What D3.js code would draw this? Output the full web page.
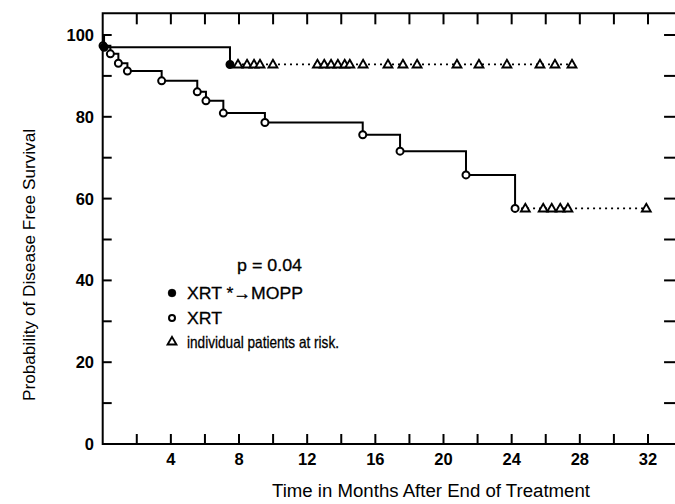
<!DOCTYPE html>
<html>
<head>
<meta charset="utf-8">
<script src="https://cdn.jsdelivr.net/npm/d3@7"></script>
<style>
  html, body { margin: 0; padding: 0; background: #fff; }
  svg { display: block; }
  text { font-family: "Liberation Sans", Arial, Helvetica, sans-serif; fill: #000; }
</style>
</head>
<body>
<svg id="chart" width="675" height="504"></svg>
<script>
// Kaplan-Meier disease-free survival, XRT -> MOPP vs XRT alone
const moppTimes = [0.08, 7.47];
const moppSurv = [97.0, 92.8];
const moppCensored = [7.94, 8.47, 8.88, 9.23, 9.99, 12.6, 13.0, 13.4, 13.8, 14.2, 14.5, 15.28, 16.74, 17.62, 18.45, 20.79, 22.08, 23.72, 25.66, 26.54, 27.54];

const xrtTimes = [0.02, 0.45, 0.92, 1.45, 3.46, 5.55, 6.06, 7.08, 9.52, 15.26, 17.45, 21.32, 24.2];
const xrtSurv = [97.4, 95.4, 93.1, 91.2, 88.8, 86.1, 83.9, 80.9, 78.6, 75.6, 71.6, 65.8, 57.6];
const xrtCensored = [24.8, 25.85, 26.35, 26.85, 27.3, 31.9];

const xTickLabels = [4, 8, 12, 16, 20, 24, 28, 32];
const yTickLabels = [0, 20, 40, 60, 80, 100];
const pValueText = "p = 0.04";
const legendLabels = ["XRT *\u2192MOPP", "XRT", "individual patients at risk."];

const svg = d3.select("#chart");
const x = d3.scaleLinear().domain([0, 34]).range([102.7, 102.7 + 34 * 17.04]);
const y = d3.scaleLinear().domain([0, 100]).range([444, 35]);
const yTop = 105.3;

const ink = "#000";

// frame: left axis, bottom axis, top line, right axis
const frame = svg.append("g").attr("fill", "none").attr("stroke", ink).attr("stroke-width", 2);
frame.append("path").attr("d", d3.line()([
  [x(34), y(0)], [x(0), y(0)], [x(0), y(yTop)], [x(34), y(yTop)], [x(34), y(0)]
]));

// tick marks every 2 months (bottom and top), every 10% (left and right)
const minorX = d3.range(2, 34, 2);
const minorY = d3.range(10, 101, 10);
const ticks = svg.append("g").attr("stroke", ink).attr("stroke-width", 2);
ticks.selectAll(".tb").data(minorX).join("line")
  .attr("x1", d => x(d)).attr("x2", d => x(d))
  .attr("y1", y(0)).attr("y2", y(0) - 10);
ticks.selectAll(".tt").data(minorX).join("line")
  .attr("x1", d => x(d)).attr("x2", d => x(d))
  .attr("y1", y(yTop)).attr("y2", y(yTop) + 11);
ticks.selectAll(".tl").data(minorY).join("line")
  .attr("x1", x(0)).attr("x2", x(0) + 9)
  .attr("y1", d => y(d)).attr("y2", d => y(d));
ticks.selectAll(".tr").data(minorY).join("line")
  .attr("x1", x(34)).attr("x2", x(34) - 18)
  .attr("y1", d => y(d)).attr("y2", d => y(d));

// tick labels
svg.append("g").selectAll("text").data(xTickLabels).join("text")
  .attr("x", d => x(d)).attr("y", 465)
  .attr("text-anchor", "middle")
  .attr("font-size", 16.5).attr("font-weight", "bold")
  .text(d => d);
svg.append("g").selectAll("text").data(yTickLabels).join("text")
  .attr("x", 94).attr("y", d => y(d) + 6)
  .attr("text-anchor", "end")
  .attr("font-size", 16.5).attr("font-weight", "bold")
  .text(d => d);

// axis titles
svg.append("text")
  .attr("x", 272).attr("y", 497)
  .attr("font-size", 18)
  .attr("textLength", 318).attr("lengthAdjust", "spacingAndGlyphs")
  .text("Time in Months After End of Treatment");
svg.append("text")
  .attr("transform", "translate(35,401) rotate(-90)")
  .attr("font-size", 17)
  .attr("textLength", 272).attr("lengthAdjust", "spacingAndGlyphs")
  .text("Probability of Disease Free Survival");

// step curve helpers
function stepPoints(times, surv) {
  const pts = [[0, 100]];
  let prev = 100;
  times.forEach((t, i) => {
    pts.push([t, prev]);
    pts.push([t, surv[i]]);
    prev = surv[i];
  });
  return pts;
}
const line = d3.line().x(d => x(d[0])).y(d => y(d[1]));

function drawCurve(times, surv, censored, filled) {
  const g = svg.append("g");
  const last = surv[surv.length - 1];
  const lastT = times[times.length - 1];
  // solid step line
  g.append("path")
    .attr("d", line(stepPoints(times, surv)))
    .attr("fill", "none").attr("stroke", ink).attr("stroke-width", 2);
  // dotted tail across censored patients
  g.append("path")
    .attr("d", line([[lastT, last], [d3.max(censored), last]]))
    .attr("fill", "none").attr("stroke", ink).attr("stroke-width", 1.7)
    .attr("stroke-dasharray", "2,4");
  // censored triangles
  g.selectAll(".cen").data(censored).join("path")
    .attr("transform", d => `translate(${x(d)},${y(last) + 0.5})`)
    .attr("d", d3.symbol(d3.symbolTriangle, 34)())
    .attr("fill", "#fff").attr("stroke", ink).attr("stroke-width", 1.9);
  // event markers
  g.selectAll(".evt").data(times.map((t, i) => [t, surv[i]])).join("circle")
    .attr("cx", d => x(d[0])).attr("cy", d => y(d[1]))
    .attr("r", 3.5)
    .attr("fill", filled ? ink : "#fff")
    .attr("stroke", ink).attr("stroke-width", 2);
}

drawCurve(xrtTimes, xrtSurv, xrtCensored, false);
drawCurve(moppTimes, moppSurv, moppCensored, true);

// legend
const lg = svg.append("g").attr("stroke", ink).attr("stroke-width", 0.3);
lg.append("text").attr("x", 237).attr("y", 271).attr("font-size", 17)
  .attr("textLength", 65).attr("lengthAdjust", "spacingAndGlyphs")
  .text(pValueText);
lg.append("circle").attr("cx", 172).attr("cy", 293).attr("r", 4).attr("fill", ink);
lg.append("circle").attr("cx", 172).attr("cy", 318).attr("r", 3).attr("fill", "#fff")
  .attr("stroke-width", 2);
lg.append("path").attr("transform", "translate(172,342)")
  .attr("d", d3.symbol(d3.symbolTriangle, 34)())
  .attr("fill", "#fff").attr("stroke-width", 1.9);
const legendWidths = [116, 35, 152];
const legendSizes = [17, 17, 16.5];
lg.selectAll(".lab").data(legendLabels).join("text")
  .attr("x", 187).attr("y", (d, i) => 299 + i * 24.5)
  .attr("font-size", (d, i) => legendSizes[i])
  .attr("textLength", (d, i) => legendWidths[i]).attr("lengthAdjust", "spacingAndGlyphs")
  .text(d => d);
</script>
</body>
</html>
